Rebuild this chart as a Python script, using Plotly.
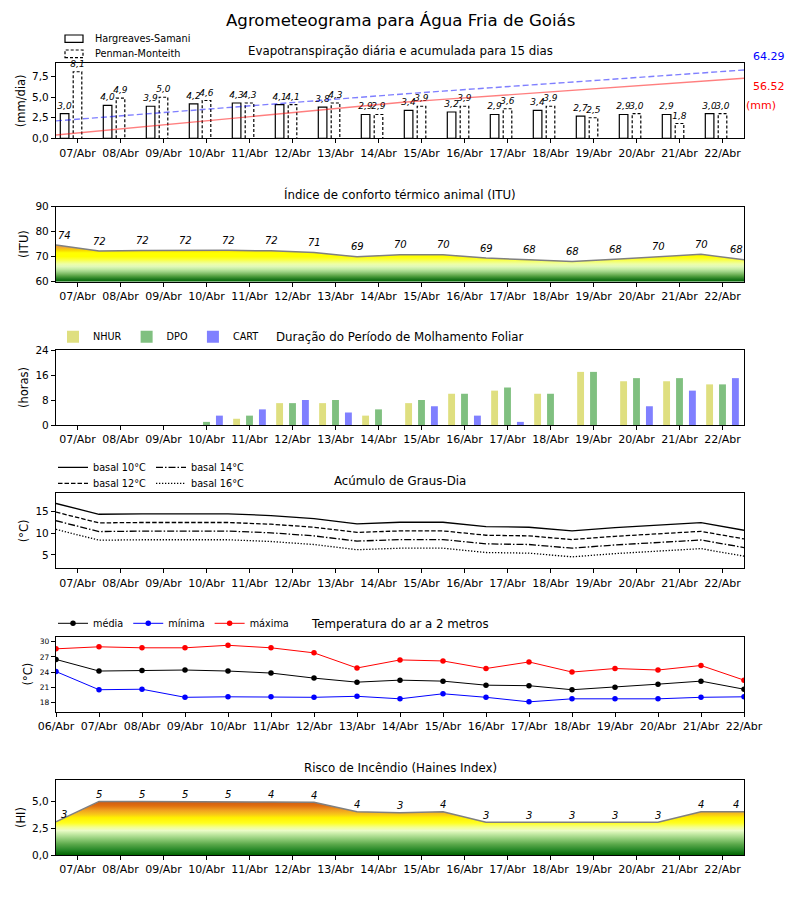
import plotly.graph_objects as go

# ---------------- data ----------------
dates = ["06/Abr", "07/Abr", "08/Abr", "09/Abr", "10/Abr", "11/Abr", "12/Abr", "13/Abr",
         "14/Abr", "15/Abr", "16/Abr", "17/Abr", "18/Abr", "19/Abr", "20/Abr", "21/Abr", "22/Abr"]

et_hargreaves = [3.0, 4.0, 3.9, 4.2, 4.3, 4.1, 3.8, 2.9, 3.4, 3.2, 2.9, 3.4, 2.7, 2.9, 2.9, 3.0]
et_penman = [8.1, 4.9, 5.0, 4.6, 4.3, 4.1, 4.3, 2.9, 3.9, 3.9, 3.6, 3.9, 2.5, 3.0, 1.8, 3.0]
acum_hargreaves = [3.1, 7.0, 10.9, 14.6, 18.3, 22.0, 25.9, 29.8, 33.7, 36.6, 39.5, 42.4, 45.3, 48.2, 51.0, 53.8, 56.52]
acum_penman = [16.4, 19.6, 22.7, 25.8, 28.9, 32.0, 35.2, 38.4, 41.5, 44.4, 47.3, 50.1, 52.9, 55.8, 58.7, 61.5, 64.29]

itu = [74.6, 72.2, 72.4, 72.5, 72.5, 72.3, 71.6, 69.9, 70.7, 70.7, 69.4, 68.7, 68.0, 68.9, 70.0, 70.9, 68.7]

nhur = [0, 0, 0, 0, 2, 7, 7, 3, 7, 10, 11, 10, 17, 14, 14, 13]
dpo = [0, 0, 0, 1, 3, 7, 8, 5, 8, 10, 12, 10, 17, 15, 15, 13]
cart = [0, 0, 0, 3, 5, 8, 4, 0, 6, 3, 1, 0, 0, 6, 11, 15]

gd_b10 = [16.9, 14.4, 14.5, 14.55, 14.5, 14.1, 13.4, 12.2, 12.55, 12.55, 11.55, 11.4, 10.55, 11.3, 11.8, 12.45, 10.7]
gd_b12 = [14.9, 12.4, 12.5, 12.55, 12.5, 12.1, 11.4, 10.2, 10.55, 10.55, 9.55, 9.4, 8.55, 9.3, 9.8, 10.45, 8.7]
gd_b14 = [12.9, 10.4, 10.5, 10.55, 10.5, 10.1, 9.4, 8.2, 8.55, 8.55, 7.55, 7.4, 6.55, 7.3, 7.8, 8.45, 6.7]
gd_b16 = [10.9, 8.4, 8.5, 8.55, 8.5, 8.1, 7.4, 6.2, 6.55, 6.55, 5.55, 5.4, 4.55, 5.3, 5.8, 6.45, 4.7]

t_media = [26.5, 24.2, 24.3, 24.4, 24.2, 23.8, 22.8, 22.0, 22.4, 22.2, 21.4, 21.3, 20.5, 21.0, 21.6, 22.2, 20.6]
t_minima = [24.1, 20.5, 20.6, 19.0, 19.1, 19.1, 19.0, 19.2, 18.7, 19.7, 19.0, 18.1, 18.7, 18.7, 18.7, 19.0, 19.1]
t_maxima = [28.6, 29.0, 28.8, 28.8, 29.3, 28.8, 27.8, 24.8, 26.4, 26.2, 24.7, 26.0, 24.0, 24.7, 24.4, 25.3, 22.4]

haines = [3.1, 5.02, 5.02, 5.02, 5.02, 4.97, 4.94, 4.06, 3.97, 4.06, 3.06, 3.06, 3.06, 3.06, 3.06, 4.06, 4.06]

# ---------------- layout helpers ----------------
OFF = 8                      # page body margin of the browser
W, H = 800 - OFF, 900 - OFF
ML, MR = 56 - OFF, 56
PW = W - ML - MR
FONT = "DejaVu Sans"


def pxx(p):
    return (p - OFF - ML) / PW


def pxy(p):
    return 1 - (p - OFF) / H


tops = [63.3, 206.6, 350.0, 493.3, 636.7, 780.0]
PH = 75.0

ndays = len(et_hargreaves)
day_c = [i + 0.5 for i in range(ndays)]          # centre of each day
bounds = list(range(len(dates)))                 # day boundaries

fig = go.Figure()

# ---------- Panel 1: ET ----------
bw = 0.2
fig.add_trace(go.Bar(
    x=[c - 0.3 for c in day_c], y=et_hargreaves, width=bw,
    marker=dict(color="white", line=dict(color="black", width=1.2)),
    texttemplate="%{y:.1f}", textposition="outside", constraintext="none",
    textfont=dict(family=FONT, size=9, color="black", style="italic"),
    cliponaxis=False, showlegend=False, xaxis="x", yaxis="y"))
fig.add_trace(go.Bar(
    x=day_c, y=et_penman, width=bw,
    marker=dict(color="white", line=dict(color="white", width=0)),
    texttemplate="%{y:.1f}", textposition="outside", constraintext="none",
    textfont=dict(family=FONT, size=9, color="black", style="italic"),
    cliponaxis=False, showlegend=False, xaxis="x", yaxis="y"))
ox, oy = [], []
for c, v in zip(day_c, et_penman):
    ox += [c - bw / 2, c - bw / 2, c + bw / 2, c + bw / 2, None]
    oy += [0, v, v, 0, None]
fig.add_trace(go.Scatter(x=ox, y=oy, mode="lines", line=dict(color="black", width=1.2, dash="3px,2px"),
                         showlegend=False, hoverinfo="skip", xaxis="x", yaxis="y"))
fig.add_trace(go.Scatter(x=bounds, y=acum_hargreaves, mode="lines",
                         line=dict(color="rgba(255,0,0,0.5)", width=1.4),
                         showlegend=False, xaxis="x", yaxis="y7"))
fig.add_trace(go.Scatter(x=bounds, y=acum_penman, mode="lines",
                         line=dict(color="rgba(0,0,255,0.5)", width=1.4, dash="6px,3px"),
                         showlegend=False, xaxis="x", yaxis="y7"))

# ---------- Panel 2: ITU ----------
itu_scale = [
    [0.0, "#006400"], [1 / 16, "#1f7a1f"], [2 / 16, "#4a9a3a"], [3 / 16, "#78b860"],
    [4 / 16, "#a0d488"], [5 / 16, "#c4eca4"], [6 / 16, "#e0f8b8"], [7 / 16, "#eeffa8"],
    [8 / 16, "#f4ff70"], [9 / 16, "#fcff30"], [10 / 16, "#ffff00"], [11.5 / 16, "#ffff00"],
    [12.5 / 16, "#f8d800"], [13.5 / 16, "#f0b030"], [15 / 16, "#e89040"], [1.0, "#e07020"]]
fig.add_trace(go.Scatter(
    x=bounds, y=itu, mode="lines", fill="tozeroy",
    fillgradient=dict(type="vertical", colorscale=itu_scale, start=60, stop=76),
    line=dict(color="#808080", width=1.5), showlegend=False, xaxis="x2", yaxis="y2"))

# ---------- Panel 3: Molhamento foliar ----------
for vals, name, col, off in [(nhur, "NHUR", "#dfdf80", -0.3), (dpo, "DPO", "#80c080", 0.0),
                             (cart, "CART", "#8080ff", 0.3)]:
    fig.add_trace(go.Bar(x=[c + off for c in day_c], y=vals, width=0.16, name=name,
                         marker=dict(color=col, line=dict(width=0)),
                         legend="legend2", xaxis="x3", yaxis="y3"))

# ---------- Panel 4: Graus-dia ----------
for vals, name, dash, lg in [(gd_b10, "basal 10°C", "solid", "legend3"),
                             (gd_b14, "basal 14°C", "7px,2px,1.5px,2px", "legend3"),
                             (gd_b12, "basal 12°C", "4.5px,2px", "legend5"),
                             (gd_b16, "basal 16°C", "1.3px,1.7px", "legend5")]:
    fig.add_trace(go.Scatter(x=bounds, y=vals, mode="lines", name=name,
                             line=dict(color="black", width=1.3, dash=dash),
                             legend=lg, xaxis="x4", yaxis="y4"))

# ---------- Panel 5: Temperatura ----------
for vals, name, col in [(t_media, "média", "black"), (t_minima, "mínima", "blue"),
                        (t_maxima, "máxima", "red")]:
    fig.add_trace(go.Scatter(x=bounds, y=vals, mode="lines+markers", name=name,
                             line=dict(color=col, width=1), marker=dict(color=col, size=5.5),
                             legend="legend4", xaxis="x5", yaxis="y5"))

# ---------- Panel 6: Haines ----------
hi_scale = [
    [0.0, "#006400"], [0.5 / 5.2, "#2a8a2a"], [1.0 / 5.2, "#5aa84a"], [1.5 / 5.2, "#90cc78"],
    [2.0 / 5.2, "#c8eca8"], [2.3 / 5.2, "#ecfcc8"], [2.6 / 5.2, "#f4ff90"], [3.0 / 5.2, "#ffff20"],
    [3.5 / 5.2, "#fff000"], [3.8 / 5.2, "#f8c818"], [4.2 / 5.2, "#f0a020"], [4.6 / 5.2, "#e07010"],
    [1.0, "#c85010"]]
fig.add_trace(go.Scatter(
    x=bounds, y=haines, mode="lines", fill="tozeroy",
    fillgradient=dict(type="vertical", colorscale=hi_scale, start=0, stop=5.2),
    line=dict(color="#808080", width=1.5), showlegend=False, xaxis="x6", yaxis="y6"))

# ---------------- axes ----------------
ax_common = dict(showline=True, linecolor="black", linewidth=1.2, mirror=True, ticks="outside",
                 ticklen=4, tickwidth=1, tickcolor="black", showgrid=False, zeroline=False)
xfont = dict(family=FONT, size=11, color="black")
yfont = dict(family=FONT, size=10.5, color="black")
ytitle_font = dict(family=FONT, size=11.5, color="black")

yspecs = [
    dict(range=[0, 9.13], tickvals=[0, 2.5, 5, 7.5], tickformat=".1f", title="(mm/dia)"),
    dict(range=[60, 90], tickvals=[60, 70, 80, 90], title="(ITU)"),
    dict(range=[0, 24], tickvals=[0, 8, 16, 24], title="(horas)"),
    dict(range=[1.9, 19.25], tickvals=[5, 10, 15], title="(°C)"),
    dict(range=[16.15, 31.0], tickvals=[18, 21, 24, 27, 30], title="(°C)"),
    dict(range=[0, 7.03], tickvals=[0, 2.5, 5], tickformat=".1f", title="(HI)"),
]

layout_axes = {}
for k in range(6):
    n = "" if k == 0 else str(k + 1)
    top = tops[k]
    dom = [pxy(top + PH), pxy(top)]
    if k == 4:
        tv, tt = bounds, dates
    else:
        tv, tt = day_c, dates[1:]
    layout_axes["xaxis" + n] = dict(ax_common, domain=[0, 1], range=[0, 16], anchor="y" + n,
                                    tickvals=tv, ticktext=tt, tickfont=xfont)
    ys = yspecs[k]
    yd = dict(ax_common, domain=dom, range=ys["range"], anchor="x" + n, tickvals=ys["tickvals"],
              tickfont=dict(yfont, size=7.5) if k == 4 else yfont,
              title=dict(text=ys["title"], font=ytitle_font, standoff=4), automargin=False)
    if "tickformat" in ys:
        yd["tickformat"] = ys["tickformat"]
    layout_axes["yaxis" + n] = yd

layout_axes["yaxis7"] = dict(overlaying="y", side="right", range=[0, 70.6], showticklabels=False,
                             ticks="", showgrid=False, zeroline=False, showline=False)

# ---------------- annotations ----------------
def paper_text(text, x, y, size, color="black", xanchor="center"):
    return dict(text=text, x=pxx(x), y=pxy(y), xref="paper", yref="paper", showarrow=False,
                xanchor=xanchor, yanchor="middle", font=dict(family=FONT, size=size, color=color))


ann = [paper_text("Agrometeograma para Água Fria de Goiás", 400, 20, 16.6)]
titles = ["Evapotranspiração diária e acumulada para 15 dias", "Índice de conforto térmico animal (ITU)",
          "Duração do Período de Molhamento Foliar", "Acúmulo de Graus-Dia",
          "Temperatura do ar a 2 metros", "Risco de Incêndio (Haines Index)"]
for k, t in enumerate(titles):
    ann.append(paper_text(t, 400, tops[k] - 12.5, 11.8))

# right-side accumulated values
ann.append(paper_text(f"{acum_penman[-1]:.2f}", 769, 56, 11, "blue"))
ann.append(paper_text(f"{acum_hargreaves[-1]:.2f}", 769, 86, 11, "red"))
ann.append(paper_text("(mm)", 761, 105, 11, "red"))


def value_labels(xs, vals, xref, yref, shift, size):
    out = []
    last = len(xs) - 1
    for i, (x, v) in enumerate(zip(xs, vals)):
        xs_ = 8 if i == 0 else (-8 if i == last else 0)
        out.append(dict(text=str(int(v)), x=x, y=v, xref=xref, yref=yref, showarrow=False,
                        yshift=shift, xshift=xs_, xanchor="center", yanchor="middle",
                        font=dict(family=FONT, size=size, color="black", style="italic")))
    return out


ann += value_labels(bounds, itu, "x2", "y2", 10, 10)
ann += value_labels(bounds, haines, "x6", "y6", 7, 10)

# manual legend for panel 1 (dashed patch not available as legend symbol)
shapes = [
    dict(type="rect", xref="paper", yref="paper", x0=pxx(65), x1=pxx(83), y0=pxy(42.3), y1=pxy(35),
         line=dict(color="black", width=1.2), fillcolor="white"),
    dict(type="rect", xref="paper", yref="paper", x0=pxx(65), x1=pxx(83), y0=pxy(57.7), y1=pxy(50),
         line=dict(color="black", width=1.2, dash="3px,2px"), fillcolor="white"),
]
ann.append(paper_text("Hargreaves-Samani", 92.5, 38.5, 9.7, xanchor="left"))
ann.append(paper_text("Penman-Monteith", 92.5, 53.5, 9.7, xanchor="left"))

leg_common = dict(orientation="h", bgcolor="rgba(0,0,0,0)", borderwidth=0,
                  font=dict(family=FONT, size=9.7, color="black"), xanchor="left", yanchor="middle",
                  tracegroupgap=0)

fig.update_layout(
    width=W, height=H, autosize=False,
    margin=dict(l=ML, r=MR, t=0, b=0, pad=0),
    paper_bgcolor="white", plot_bgcolor="white",
    separators=",.",
    barmode="overlay",
    font=dict(family=FONT, size=11, color="black"),
    showlegend=True,
    legend2=dict(leg_common, x=pxx(53), y=pxy(336.7)),
    legend3=dict(leg_common, x=pxx(53), y=pxy(467.3)),
    legend5=dict(leg_common, x=pxx(53), y=pxy(483.3)),
    legend4=dict(leg_common, x=pxx(53), y=pxy(623.3)),
    annotations=ann,
    shapes=shapes,
    **layout_axes,
)

fig.write_html("out.html")
